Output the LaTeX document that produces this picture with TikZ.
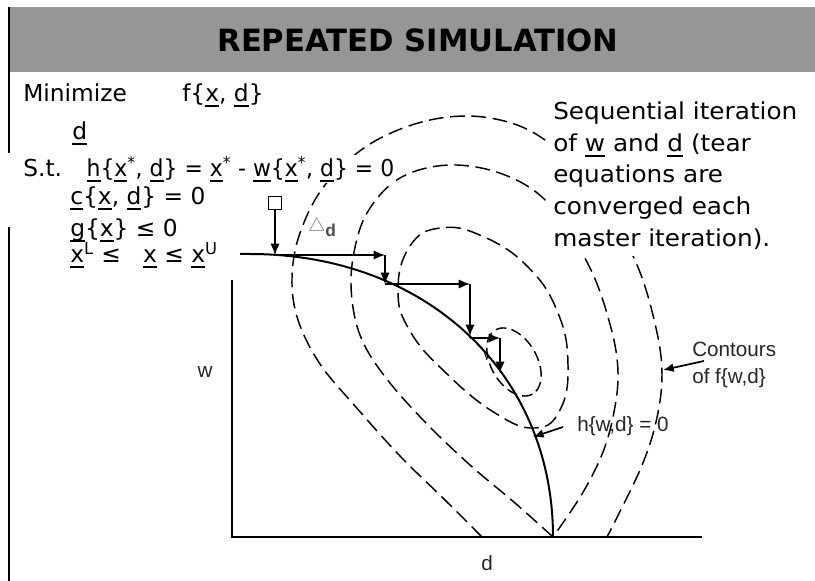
\documentclass[tikz,border=0pt]{standalone}
\usepackage{fontspec}
\usepackage{graphicx}
\setmainfont{DejaVu Sans}
\newfontfamily\figfont{Liberation Sans}
\usetikzlibrary{arrows.meta}
\newcommand\ulx[1]{\setbox0\hbox{#1}\rlap{\rule[-0.22em]{\wd0}{0.09em}}\box0\relax}
\definecolor{titlegray}{RGB}{150,150,150}
\begin{document}
\begin{tikzpicture}[x=0.75pt,y=-0.75pt,
  body/.style={font=\fontsize{17.5}{21}\selectfont, inner sep=0pt, anchor=base west},
  figlabel/.style={font=\figfont\fontsize{15.5}{18}\selectfont, text=black!85, inner sep=0pt},
  contour/.style={line width=1.1pt, dash pattern=on 11pt off 5pt},
  stepar/.style={line width=1.1pt, -{Latex[length=8.5pt,width=7pt]}},
  stepline/.style={line width=1.1pt},
  hcurve/.style={line width=1.5pt},
  axis/.style={line width=1.5pt}]
\useasboundingbox (0,0) rectangle (815,581);
% title bar and frame
\fill[titlegray] (9,7) rectangle (815,72);
\node[font=\fontsize{23}{26}\selectfont\bfseries, inner sep=0pt] (title) at (418,40) {REPEATED SIMULATION};
\draw[line width=0.9pt] (9,7) -- (9,153);
\draw[line width=0.9pt] (9,227) -- (9,581);
% axes
\coordinate (o) at (232,537);
\coordinate (ytop) at (232,280);
\coordinate (xend) at (702,537);
\draw[axis] (ytop) -- (o) -- (xend);
% contours
\draw[contour] plot[smooth, tension=0.6] coordinates {(482,537) (445,500) (400,456) (355,406) (320,364) (298,320) (292,278) (300,233) (325,185) (370,144) (430,120) (490,118) (545,140) (600,198) (637,265) (656,328) (662,375) (656,422) (640,470) (607,537)};
\draw[contour] plot[smooth, tension=0.6] coordinates {(553,537) (515,503) (470,465) (425,422) (386,378) (362,340) (352,300) (353,258) (367,213) (400,178) (450,165) (505,175) (550,205) (590,268) (611,328) (618,372) (614,412) (603,452) (582,494) (553,537)};
\draw[contour] plot[smooth cycle, tension=0.75] coordinates {(398,290) (410,246) (440,228) (482,236) (528,267) (558,313) (568,365) (560,410) (535,428) (495,413) (446,373) (410,331)};
\draw[contour, dash pattern=on 8pt off 4pt] plot[variable=\t, domain=0:360, samples=72, smooth] ({514+37*cos(\t)*0.5-23*sin(\t)*0.866}, {362+37*cos(\t)*0.866+23*sin(\t)*0.5}) -- cycle;
\coordinate (tk1) at (484,351);
\coordinate (tk2) at (487,360);
\draw[line width=0.7pt] (tk1) -- (tk2);
% constraint curve h
\coordinate (c0) at (240,254);
\coordinate (c1) at (250,254);
\coordinate (c2) at (553,537);
\draw[hcurve] (c0) -- (c1) .. controls (426,254) and (553,373) .. (c2);
% iteration steps
\node[draw, line width=1pt, minimum size=9.5pt, inner sep=0pt] (box) at (275,203) {};
\coordinate (p0) at (275,255);
\coordinate (a1) at (385,255);
\coordinate (p1) at (385,284);
\coordinate (a2) at (470,284);
\coordinate (p2) at (470,336);
\coordinate (q2) at (470,338);
\coordinate (a3) at (500,338);
\coordinate (p3) at (500,373);
\draw[stepar] (box.south) -- (p0);
\draw[stepar] (p0) -- (a1);
\draw[stepar] (a1) -- (p1);
\draw[stepar] (p1) -- (a2);
\draw[stepar] (a2) -- (p2);
\draw[stepline] (p2) -- (q2);
\draw[stepar] (q2) -- (a3);
\draw[stepar] (a3) -- (p3);
\node[inner sep=0pt, text=black!50, anchor=base west] (delta) at (308,232) {{\fontsize{15}{15}\selectfont$\triangle$}\raisebox{-0.6ex}{\figfont\fontsize{13}{13}\selectfont\bfseries\color{black!70}d}};
% figure labels
\node[figlabel] (wl) at (205,372) {w};
\node[figlabel] (dl) at (487,563) {d};
\node[figlabel, anchor=west] (hl) at (577,426) {h\{w,d\} = 0};
\coordinate (ht) at (563,427);
\coordinate (hh) at (533,437);
\draw[line width=1.3pt, -{Latex[length=8pt,width=6.5pt]}] (ht) -- (hh);
\node[figlabel, anchor=base west] (cl1) at (692,357) {Contours};
\node[figlabel, anchor=base west] (cl2) at (692,383) {of f\{w,d\}};
\coordinate (ct) at (704,361);
\coordinate (chh) at (663,370);
\draw[line width=1.3pt, -{Latex[length=8pt,width=6.5pt]}] (ct) -- (chh);
% right explanation text
\fill[white] (546,96) rectangle (812,256);
\node[body] (r1) at (553,120) {\scalebox{1.06}[1]{Sequential iteration}};
\node[body] (r2) at (553,152) {\scalebox{1.06}[1]{of \ulx{w} and \ulx{d} (tear}};
\node[body] (r3) at (553,183) {\scalebox{1.06}[1]{equations are}};
\node[body] (r4) at (553,215) {\scalebox{1.06}[1]{converged each}};
\node[body] (r5) at (553,247) {\scalebox{1.06}[1]{master iteration).}};
% left problem statement
\node[body] (m1) at (23,102) {Minimize};
\node[body] (m2) at (182,102) {f\{\ulx{x}, \ulx{d}\}};
\node[body] (m3) at (72,140) {\ulx{d}};
\node[body] (st) at (23,177) {S.t.};
\node[body, fill=white, inner sep=1pt] (e1) at (85,177) {\scalebox{0.94}[1]{\ulx{h}\{\ulx{x}\textsuperscript{*}, \ulx{d}\} = \ulx{x}\textsuperscript{*} - \ulx{w}\{\ulx{x}\textsuperscript{*}, \ulx{d}\} = 0}};
\node[body] (e2) at (70,205) {\ulx{c}\{\ulx{x}, \ulx{d}\} = 0};
\node[body] (e3) at (70,237) {\ulx{g}\{\ulx{x}\} ≤ 0};
\node[body] (e4) at (70,263) {\ulx{x}\textsuperscript{L} ≤ \ \ \ulx{x} ≤ \ulx{x}\textsuperscript{U}};
\end{tikzpicture}
\end{document}
